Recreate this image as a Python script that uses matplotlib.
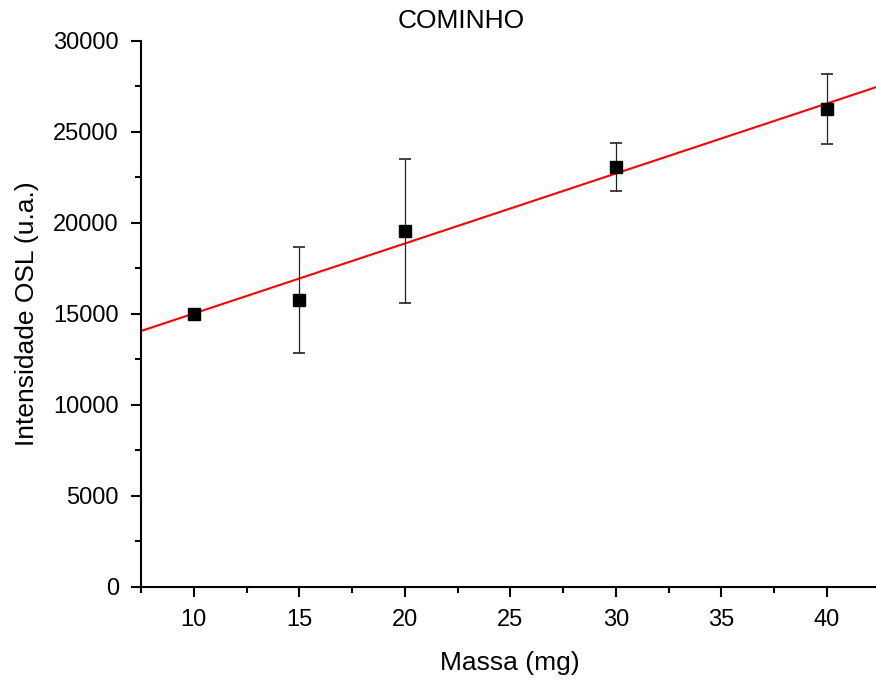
import matplotlib
matplotlib.use('Agg')
import matplotlib.pyplot as plt
from matplotlib.ticker import MultipleLocator
import numpy as np

plt.rcParams['font.family'] = ['Liberation Sans', 'DejaVu Sans']

# data
massa = np.array([10, 15, 20, 30, 40])
intensidade = np.array([15000, 15770, 19560, 23080, 26260])
erro = np.array([0, 2910, 3980, 1320, 1920])

# linear fit
fit_slope = 384.6
fit_intercept = 11181

fig = plt.figure(figsize=(8.76, 6.82), dpi=100)
ax = fig.add_axes([0.161, 0.1393, 0.843, 0.8006])

xfit = np.array([7.5, 42.5])
ax.plot(xfit, fit_intercept + fit_slope * xfit, color='red', lw=1.5, zorder=2)

ax.errorbar(massa, intensidade, yerr=erro, fmt='s', color='black', ms=8,
            ecolor='#222222', elinewidth=0.9, capsize=4, capthick=1.2, zorder=3)

ax.set_xlim(7.5, 42.5)
ax.set_ylim(0, 30000)
ax.xaxis.set_major_locator(MultipleLocator(5))
ax.xaxis.set_minor_locator(MultipleLocator(2.5))
ax.yaxis.set_major_locator(MultipleLocator(5000))
ax.yaxis.set_minor_locator(MultipleLocator(2500))

ax.spines['top'].set_visible(False)
ax.spines['right'].set_visible(False)
ax.spines['left'].set_linewidth(1.5)
ax.spines['bottom'].set_linewidth(1.5)
ax.tick_params(which='major', direction='out', length=7, width=1.5, labelsize=17, pad=9)
ax.tick_params(which='minor', direction='out', length=4, width=1.5)

ax.set_xlabel('Massa (mg)', fontsize=19, labelpad=14)
ax.set_ylabel('Intensidade OSL (u.a.)', fontsize=19, labelpad=10)
fig.text(461 / 876, 1 - 21 / 682, 'COMINHO', fontsize=19, ha='center', va='center')

plt.savefig('out.png', dpi=100)
